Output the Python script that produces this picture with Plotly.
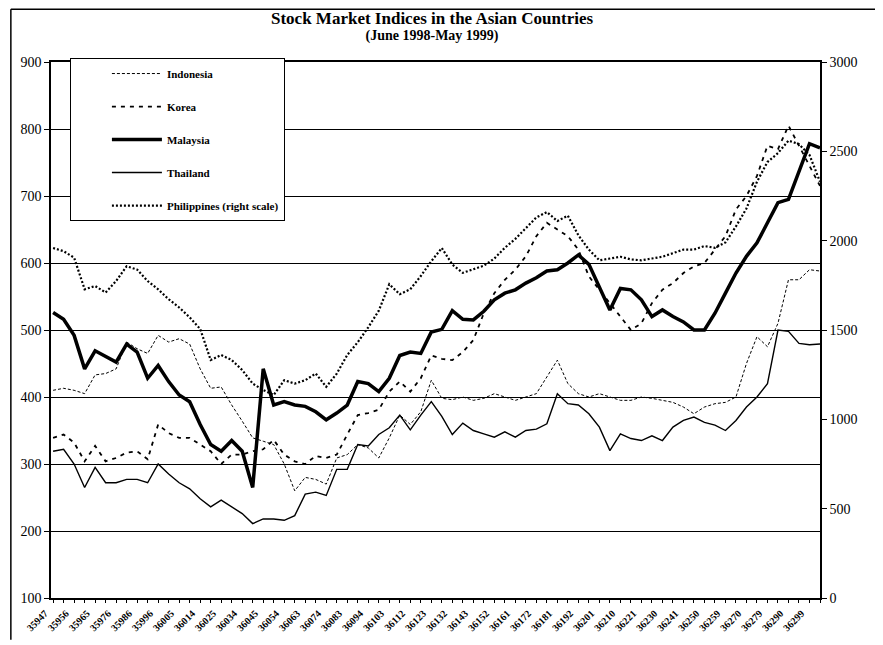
import plotly.graph_objects as go

# Excel date serials of the sampled trading days (every other one is a labelled tick)
dates = [35947, 35951, 35956, 35960, 35965, 35970, 35976, 35981, 35986, 35991,
         35996, 36000, 36005, 36009, 36014, 36019, 36025, 36029, 36034, 36039,
         36045, 36049, 36054, 36058, 36063, 36068, 36074, 36078, 36083, 36088,
         36094, 36098, 36103, 36107, 36112, 36117, 36123, 36127, 36132, 36137,
         36143, 36147, 36152, 36156, 36161, 36166, 36172, 36176, 36181, 36186,
         36192, 36196, 36201, 36205, 36210, 36215, 36221, 36225, 36230, 36235,
         36241, 36245, 36250, 36254, 36259, 36264, 36270, 36274, 36279, 36284,
         36290, 36294, 36299, 36303]
tick_dates = [35947, 35956, 35965, 35976, 35986, 35996, 36005, 36014, 36025,
              36034, 36045, 36054, 36063, 36074, 36083, 36094, 36103, 36112,
              36123, 36132, 36143, 36152, 36161, 36172, 36181, 36192, 36201,
              36210, 36221, 36230, 36241, 36250, 36259, 36270, 36279, 36290,
              36299]

indonesia = [410, 413, 410, 405, 433, 435, 442, 482, 472, 465,
             492, 482, 487, 479, 442, 413, 415, 388, 364, 339,
             334, 329, 300, 260, 280, 277, 270, 309, 314, 329,
             324, 309, 339, 373, 359, 378, 425, 398, 396, 400,
             395, 398, 405, 400, 395, 400, 405, 430, 455, 420,
             405, 400, 405, 400, 395, 395, 400, 398, 395, 392,
             385, 375, 385, 390, 392, 400, 450, 490, 475, 510,
             575, 575, 590, 588]
korea = [339, 344, 332, 304, 327, 304, 309, 317, 319, 307,
         359, 346, 339, 339, 329, 319, 300, 314, 314, 319,
         322, 336, 314, 304, 300, 312, 309, 314, 344, 373,
         376, 381, 408, 423, 408, 428, 462, 457, 455, 467,
         485, 525, 555, 575, 590, 610, 640, 660, 650, 640,
         620, 580, 560, 540, 520, 500, 510, 540, 560, 570,
         585, 595, 600, 620, 640, 680, 700, 730, 775, 770,
         805, 775, 745, 715]
malaysia = [526, 516, 492, 442, 469, 460, 452, 479, 467, 428,
            447, 423, 403, 393, 359, 329, 319, 335, 319, 265,
            442, 388, 393, 388, 386, 378, 366, 376, 388, 423,
            420, 408, 428, 462, 467, 465, 497, 501, 529, 516,
            515, 528, 545, 555, 560, 570, 578, 588, 590, 600,
            612, 598, 565, 530, 562, 560, 545, 520, 530, 520,
            512, 500, 500, 525, 555, 585, 610, 630, 660, 690,
            695, 735, 778, 772]
thailand = [319, 322, 300, 265, 295, 272, 272, 277, 277, 272,
            300, 285, 272, 263, 248, 236, 246, 236, 226, 211,
            218, 218, 216, 223, 255, 258, 253, 292, 292, 329,
            327, 344, 354, 373, 351, 373, 393, 371, 344, 361,
            350, 345, 340, 348, 340, 350, 352, 360, 405, 390,
            388, 375, 355, 320, 345, 338, 335, 342, 335, 355,
            365, 370, 362, 358, 350, 365, 385, 400, 420, 500,
            498, 480, 478, 479]
philippines = [1959, 1941, 1905, 1728, 1746, 1710, 1774, 1857, 1838, 1774,
               1728, 1672, 1626, 1571, 1506, 1332, 1360, 1332, 1276, 1200,
               1164, 1136, 1219, 1200, 1219, 1256, 1182, 1256, 1360, 1432,
               1515, 1608, 1756, 1700, 1728, 1802, 1885, 1959, 1867, 1820,
               1840, 1860, 1900, 1960, 2010, 2070, 2130, 2160, 2110, 2140,
               2030, 1950, 1890, 1900, 1910, 1895, 1890, 1900, 1910, 1930,
               1950, 1950, 1970, 1960, 1990, 2080, 2180, 2330, 2440, 2490,
               2560, 2540, 2480, 2330]

left_ticks = [100, 200, 300, 400, 500, 600, 700, 800, 900]
right_ticks = [0, 500, 1000, 1500, 2000, 2500, 3000]


def main():
    serif = "Liberation Serif"
    x = [str(d) for d in dates]
    tick_text = [str(d) if d in tick_dates else "" for d in dates]

    fig = go.Figure()
    fig.add_trace(go.Scatter(x=x, y=indonesia, mode="lines", name="Indonesia",
                             legendgroup="a",
                             line=dict(color="black", width=1,
                                       dash="3px,2px")))
    fig.add_trace(go.Scatter(x=x, y=korea, mode="lines", name="Korea",
                             legendgroup="b",
                             line=dict(color="black", width=1.8,
                                       dash="4px,5px")))
    fig.add_trace(go.Scatter(x=x, y=malaysia, mode="lines", name="Malaysia",
                             legendgroup="c",
                             line=dict(color="black", width=3.5)))
    fig.add_trace(go.Scatter(x=x, y=thailand, mode="lines", name="Thailand",
                             legendgroup="d",
                             line=dict(color="black", width=1.4)))
    fig.add_trace(go.Scatter(x=x, y=philippines, mode="lines",
                             name="Philippines (right scale)",
                             legendgroup="e", yaxis="y2",
                             line=dict(color="black", width=2.2,
                                       dash="2px,2px")))

    # page body adds an 8px margin, so the figure is drawn 8px smaller
    fig.update_layout(
        width=875, height=637,
        margin=dict(l=41, r=63, t=54, b=42),
        paper_bgcolor="white", plot_bgcolor="white",
        font=dict(family=serif, color="black"),
        showlegend=True,
        title=dict(text="<span style='font-size:17px'>Stock Market Indices "
                        "in the Asian Countries</span><br>"
                        "<span style='font-size:14px'>(June 1998-May 1999)"
                        "</span>",
                   x=0.4846, xanchor="center", y=0.9745, yref="container",
                   yanchor="middle",
                   font=dict(family=serif, size=12, weight="bold")),
        legend=dict(x=0.0246, y=1.0074, xanchor="left", yanchor="top",
                    bgcolor="white", bordercolor="black", borderwidth=1,
                    itemwidth=50, tracegroupgap=14, indentation=36,
                    font=dict(family=serif, size=11, weight="bold")),
        xaxis=dict(type="category", range=[-0.2, len(dates) - 1],
                   tickmode="array", tickvals=x, ticktext=tick_text,
                   tickangle=-45, ticks="outside", ticklen=3,
                   tickcolor="black", showgrid=False,
                   ticklabelshift=-8, ticklabelstandoff=1,
                   showline=True, linecolor="black", linewidth=1.5,
                   mirror=True,
                   tickfont=dict(family=serif, size=10, weight="bold")),
        yaxis=dict(range=[100, 900], tickvals=left_ticks, ticks="outside",
                   ticklen=5, tickcolor="black", showline=True,
                   linecolor="black", linewidth=1.5, showgrid=True,
                   gridcolor="black", gridwidth=1, zeroline=False,
                   tickfont=dict(family=serif, size=14)),
        yaxis2=dict(range=[0, 3000], tickvals=right_ticks, overlaying="y",
                    side="right", ticks="outside", ticklen=5,
                    tickcolor="black", showline=True, linecolor="black",
                    linewidth=1.5, showgrid=False, zeroline=False,
                    tickfont=dict(family=serif, size=14)),
        shapes=[
            dict(type="line", xref="paper", yref="paper",
                 x0=-0.0522, x1=1.1, y0=1.0984, y1=1.0984,
                 line=dict(color="black", width=1.5)),
            dict(type="line", xref="paper", yref="paper",
                 x0=-0.0522, x1=-0.0522, y0=1.0984, y1=-0.078,
                 line=dict(color="black", width=1.5)),
        ],
    )

    fig.write_html("out.html")


if __name__ == "__main__":
    main()
